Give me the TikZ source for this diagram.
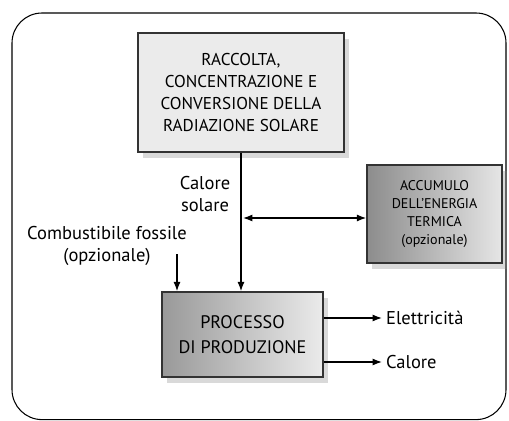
\documentclass[tikz,border=0pt]{standalone}
\usepackage{fontspec}
\setmainfont{PT Sans}
\usetikzlibrary{arrows.meta}
\usetikzlibrary{shadows}
\tikzset{blocco/.style={draw=black!80, line width=1.2pt, align=center, inner sep=0pt, drop shadow={shadow xshift=4pt, shadow yshift=-5pt, opacity=0.3}}, freccia/.style={-{Latex[length=8pt, width=6pt]}, line width=1.2pt}, etichetta/.style={font=\fontsize{15.8}{18.5}\selectfont, align=center}}

\begin{document}
\begin{tikzpicture}[x=0.03cm, y=-0.03cm]
	\useasboundingbox (0,0) rectangle (509,420);
	\draw[line width=0.9pt, rounded corners=0.9cm] (12,13) rectangle (506,419.6);
	\node[blocco, fill=black!8, minimum width=6.18cm, minimum height=3.57cm, font=\fontsize{14.6}{18.5}\selectfont] (raccolta) at (241,92.5)
		{RACCOLTA,\\CONCENTRAZIONE E\\CONVERSIONE DELLA\\RADIAZIONE SOLARE};
	\node[blocco, left color=black!45, right color=black!10, minimum width=4.05cm, minimum height=2.94cm, font=\fontsize{12}{15.5}\selectfont] (accumulo) at (434.5,214)
		{ACCUMULO\\DELL'ENERGIA\\TERMICA\\(opzionale)};
	\node[blocco, left color=black!40, right color=black!8, minimum width=4.83cm, minimum height=2.55cm, font=\fontsize{15.5}{21}\selectfont] (processo) at (242.5,334.5)
		{PROCESSO\\DI PRODUZIONE};
	\node[etichetta] (calsolare) at (205,194) {Calore\\solare};
	\node[etichetta] (combustibile) at (107,246) {Combustibile fossile\\(opzionale)};
	\node[etichetta, anchor=west] (elettricita) at (382,318) {Elettricità};
	\node[etichetta, anchor=west] (calore) at (382,362) {Calore};
	\coordinate (nodo) at (243,218);
	\coordinate (fossile) at (177,254);
	\draw[freccia] (raccolta.south) -- (raccolta.south |- processo.north);
	\draw[freccia, {Latex[length=8pt, width=6pt]}-{Latex[length=8pt, width=6pt]}] (nodo) -- (nodo -| accumulo.west);
	\draw[freccia] (fossile) -- (fossile |- processo.north);
	\draw[freccia] (processo.east |- elettricita) -- (elettricita.west);
	\draw[freccia] (processo.east |- calore) -- (calore.west);
\end{tikzpicture}
\end{document}
